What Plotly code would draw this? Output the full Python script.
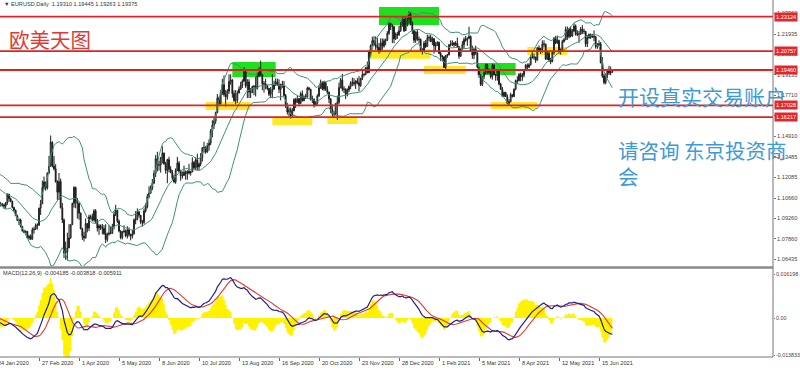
import numpy as np
import pandas as pd
import plotly.graph_objects as go

# ---------------- data: EURUSD daily (Dec 2019 warm-up .. 25 Jun 2021) ----------------
closes = [
 1.1078,1.1081,1.1077,1.1104,1.1058, 1.1064,1.1093,1.1129,1.1131,1.1121, 1.1144,1.1149,1.1113,1.1122,1.1079, 1.1087,1.1088,1.1100,1.1178, 1.1199,1.1213,
 1.1172,1.1160, 1.1196,1.1151,1.1105,1.1105,1.1120, 1.1135,1.1128,1.1150,1.1136,1.1092, 1.1095,1.1083,1.1093,1.1055,1.1026, 1.1021,1.1019,1.1010,1.1031,1.1093,
 1.1062,1.1045,1.1001,1.0982,1.0944, 1.0912,1.0915,1.0872,1.0840,1.0830, 1.0837,1.0791,1.0803,1.0783,1.0848, 1.0852,1.0880,1.0881,1.0996,1.1026,
 1.1138,1.1177,1.1135,1.1238,1.1284, 1.1450,1.1285,1.1267,1.1177,1.1106, 1.1180,1.0999,1.0915,1.0690,1.0695, 1.0723,1.0793,1.0883,1.1029,1.1139, 1.1043,1.1031,
 1.0962,1.0855,1.0803, 1.0793,1.0891,1.0859,1.0937,1.0938, 1.0914,1.0977,1.0903,1.0860,1.0876, 1.0862,1.0857,1.0822,1.0781,1.0820, 1.0825,1.0824,1.0870,1.0954,
 1.0982, 1.0907,1.0839,1.0795,1.0833,1.0839, 1.0806,1.0848,1.0815,1.0805,1.0820, 1.0915,1.0922,1.0971,1.0948,1.0901, 1.0898,1.0977,1.1005,1.1077,1.1100,
 1.1134,1.1169,1.1235,1.1336,1.1292, 1.1293,1.1342,1.1374,1.1301,1.1256, 1.1330,1.1264,1.1243,1.1205,1.1178, 1.1257,1.1307,1.1251,1.1219,1.1220, 1.1243,1.1234,
 1.1251,1.1238,1.1245, 1.1310,1.1274,1.1330,1.1280,1.1300, 1.1344,1.1412,1.1413,1.1383,1.1427, 1.1444,1.1527,1.1568,1.1595,1.1654, 1.1753,1.1716,1.1790,1.1846,1.1778,
 1.1762,1.1800,1.1866,1.1877,1.1785, 1.1737,1.1737,1.1787,1.1814,1.1840, 1.1870,1.1932,1.1837,1.1864,1.1795, 1.1792,1.1832,1.1834,1.1820,1.1904, 1.1937,
 1.1913,1.1852,1.1850,1.1838, 1.1819,1.1779,1.1799,1.1813,1.1845, 1.1864,1.1845,1.1813,1.1848,1.1840, 1.1770,1.1703,1.1658,1.1673,1.1631, 1.1665,1.1744,1.1722,
 1.1749,1.1716, 1.1783,1.1735,1.1761,1.1760,1.1823, 1.1813,1.1743,1.1746,1.1705,1.1718, 1.1768,1.1823,1.1862,1.1816,1.1860, 1.1813,1.1793,1.1747,1.1674,1.1645,
 1.1641,1.1714,1.1724,1.1826,1.1876, 1.1815,1.1814,1.1779,1.1808,1.1833, 1.1856,1.1860,1.1852,1.1871,1.1857, 1.1840,1.1888,1.1914,1.1915,1.1963, 1.1928,
 1.2070,1.2115,1.2148,1.2121, 1.2107,1.2101,1.2079,1.2133,1.2110, 1.2147,1.2151,1.2199,1.2265,1.2255, 1.2243,1.2160,1.2193,1.2188, 1.2216,1.2249,1.2297,1.2216,
 1.2249,1.2297,1.2327,1.2270,1.2218, 1.2151,1.2208,1.2157,1.2155,1.2081, 1.2076,1.2131,1.2107,1.2166,1.2170, 1.2141,1.2161,1.2112,1.2116,1.2136,
 1.2059,1.2040,1.2036,1.1963,1.2046, 1.2050,1.2118,1.2121,1.2133,1.2119, 1.2130,1.2106,1.2040,1.2091,1.2120, 1.2156,1.2151,1.2165,1.2176,1.2074,
 1.2048,1.2089,1.2063,1.1965,1.1915, 1.1847,1.1901,1.1928,1.1983,1.1952, 1.1929,1.1900,1.1978,1.1914,1.1906, 1.1939,1.1850,1.1814,1.1765,1.1792, 1.1763,1.1717,1.1728,
 1.1776,1.1763, 1.1814,1.1874,1.1872,1.1915,1.1900, 1.1911,1.1946,1.1978,1.1965,1.1983, 1.2036,1.2036,1.2034,1.2013,1.2097, 1.2083,1.2090,1.2125,1.2124,1.2020,
 1.2061,1.2014,1.2003,1.2067,1.2164, 1.2132,1.2149,1.2073,1.2081,1.2142, 1.2154,1.2224,1.2174,1.2227,1.2180, 1.2214,1.2248,1.2191,1.2193,1.2193, 1.2226,
 1.2213,1.2211,1.2126,1.2166, 1.2190,1.2172,1.2179,1.2174,1.2107, 1.2121,1.2126,1.1996,1.1905,1.1860, 1.1917,1.1941,1.1926,1.1931,1.19375,
]
highs = [
 1.1090,1.1092,1.1090,1.1110,1.1112, 1.1075,1.1097,1.1145,1.1200,1.1139, 1.1153,1.1175,1.1150,1.1128,1.1125, 1.1094,1.1096,1.1106,1.1187, 1.1214,1.1239,
 1.1229,1.1185, 1.1206,1.1199,1.1166,1.1115,1.1124, 1.1141,1.1139,1.1154,1.1174,1.1137, 1.1101,1.1100,1.1103,1.1102,1.1060, 1.1039,1.1032,1.1028,1.1039,1.1098,
 1.1095,1.1069,1.1047,1.1006,1.0986, 1.0951,1.0925,1.0925,1.0872,1.0850, 1.0844,1.0839,1.0813,1.0816,1.0863, 1.0868,1.0891,1.0892,1.1000,1.1053,
 1.1186,1.1214,1.1165,1.1243,1.1356, 1.1496,1.1455,1.1354,1.1299,1.1189, 1.1238,1.1200,1.1032,1.0926,1.0766, 1.0828,1.0886,1.0888,1.1035,1.1147, 1.1144,1.1067,
 1.1028,1.0967,1.0862, 1.0834,1.0926,1.0893,1.0952,1.0951, 1.0959,1.0990,1.0990,1.0923,1.0886, 1.0885,1.0888,1.0880,1.0886,1.0828, 1.0880,1.0870,1.0889,1.0973,
 1.1019, 1.0955,1.0918,1.0845,1.0840,1.0879, 1.0850,1.0872,1.0864,1.0822,1.0849, 1.0926,1.0976,1.0995,1.0976,1.0948, 1.0916,1.0994,1.1030,1.1093,1.1147,
 1.1154,1.1197,1.1257,1.1361,1.1384, 1.1322,1.1349,1.1422,1.1380,1.1315, 1.1336,1.1350,1.1285,1.1259,1.1226, 1.1270,1.1349,1.1321,1.1260,1.1249, 1.1289,1.1256,
 1.1255,1.1302,1.1253, 1.1346,1.1321,1.1346,1.1371,1.1310, 1.1375,1.1414,1.1452,1.1423,1.1445, 1.1468,1.1540,1.1601,1.1626,1.1660, 1.1781,1.1764,1.1807,1.1886,1.1909,
 1.1809,1.1815,1.1917,1.1916,1.1883, 1.1806,1.1808,1.1804,1.1833,1.1865, 1.1882,1.1966,1.1950,1.1883,1.1883, 1.1822,1.1838,1.1843,1.1900,1.1928, 1.1966,
 1.2011,1.1918,1.1870,1.1884, 1.1845,1.1823,1.1829,1.1917,1.1873, 1.1888,1.1887,1.1882,1.1851,1.1872, 1.1871,1.1781,1.1720,1.1689,1.1688, 1.1684,1.1751,1.1754,
 1.1771,1.1752, 1.1797,1.1806,1.1771,1.1782,1.1832, 1.1830,1.1817,1.1770,1.1750,1.1733, 1.1780,1.1841,1.1880,1.1868,1.1872, 1.1860,1.1835,1.1798,1.1752,1.1708,
 1.1666,1.1720,1.1770,1.1860,1.1891, 1.1920,1.1834,1.1820,1.1820,1.1840, 1.1870,1.1894,1.1890,1.1875,1.1891, 1.1905,1.1893,1.1942,1.1924,1.1966, 1.2004,
 1.2078,1.2122,1.2175,1.2178, 1.2177,1.2167,1.2131,1.2163,1.2163, 1.2162,1.2162,1.2213,1.2273,1.2272, 1.2259,1.2250,1.2204,1.2209, 1.2250,1.2276,1.2310,1.2310,
 1.2310,1.2307,1.2349,1.2345,1.2280, 1.2222,1.2210,1.2222,1.2176,1.2163, 1.2096,1.2146,1.2152,1.2189,1.2185, 1.2188,1.2175,1.2166,1.2140,1.2144,
 1.2141,1.2074,1.2049,1.2040,1.2050, 1.2058,1.2126,1.2150,1.2150,1.2136, 1.2145,1.2169,1.2112,1.2096,1.2145, 1.2170,1.2180,1.2170,1.2243,1.2183,
 1.2113,1.2094,1.2113,1.2067,1.1968, 1.1914,1.1908,1.1936,1.1990,1.1989, 1.1955,1.1942,1.1990,1.1988,1.1919, 1.1942,1.1942,1.1858,1.1830,1.1797, 1.1796,1.1779,1.1746,
 1.1790,1.1780, 1.1820,1.1880,1.1903,1.1926,1.1928, 1.1925,1.1949,1.1988,1.1991,1.1993, 1.2048,1.2079,1.2058,1.2038,1.2105, 1.2116,1.2098,1.2150,1.2150,1.2127,
 1.2076,1.2078,1.2030,1.2071,1.2173, 1.2181,1.2182,1.2155,1.2094,1.2154, 1.2167,1.2245,1.2245,1.2235,1.2244, 1.2227,1.2266,1.2259,1.2219,1.2215, 1.2242,
 1.2254,1.2230,1.2214,1.2185, 1.2197,1.2197,1.2194,1.2218,1.2179, 1.2131,1.2150,1.2139,1.2035,1.1920, 1.1922,1.1954,1.1975,1.1970,1.19445,
]
lows = [
 1.1014,1.1068,1.1067,1.1073,1.1040, 1.1054,1.1060,1.1076,1.1106,1.1107, 1.1116,1.1138,1.1110,1.1099,1.1068, 1.1070,1.1081,1.1083,1.1095, 1.1170,1.1195,
 1.1164,1.1126, 1.1146,1.1145,1.1093,1.1090,1.1090, 1.1114,1.1115,1.1123,1.1130,1.1086, 1.1080,1.1080,1.1082,1.1036,1.1018, 1.1008,1.1010,1.0992,1.0993,1.1020,
 1.1040,1.1036,1.0995,1.0973,1.0944, 1.0908,1.0880,1.0863,1.0835,1.0827, 1.0822,1.0788,1.0779,1.0778,1.0780, 1.0822,1.0847,1.0850,1.0873,1.0950,
 1.1053,1.1123,1.1117,1.1124,1.1233, 1.1318,1.1277,1.1256,1.1174,1.1053, 1.1053,1.0995,1.0894,1.0654,1.0642, 1.0636,1.0731,1.0786,1.0886,1.1000, 1.0996,1.0925,
 1.0917,1.0851,1.0778, 1.0768,1.0787,1.0830,1.0839,1.0919, 1.0906,1.0904,1.0890,1.0836,1.0813, 1.0846,1.0817,1.0812,1.0757,1.0766, 1.0808,1.0816,1.0819,1.0850,
 1.0942, 1.0894,1.0830,1.0782,1.0782,1.0828, 1.0797,1.0788,1.0801,1.0775,1.0788, 1.0815,1.0886,1.0913,1.0932,1.0886, 1.0870,1.0888,1.0966,1.0995,1.1064,
 1.1094,1.1121,1.1162,1.1210,1.1249, 1.1255,1.1241,1.1304,1.1296,1.1233, 1.1168,1.1242,1.1236,1.1190,1.1168, 1.1164,1.1250,1.1242,1.1185,1.1199, 1.1220,1.1192,
 1.1192,1.1228,1.1220, 1.1247,1.1264,1.1259,1.1257,1.1254, 1.1285,1.1317,1.1377,1.1370,1.1377, 1.1392,1.1430,1.1483,1.1541,1.1576, 1.1648,1.1704,1.1708,1.1775,1.1763,
 1.1696,1.1742,1.1782,1.1845,1.1756, 1.1727,1.1711,1.1720,1.1790,1.1809, 1.1822,1.1865,1.1823,1.1753,1.1753, 1.1753,1.1787,1.1773,1.1764,1.1811, 1.1897,
 1.1905,1.1807,1.1790,1.1814, 1.1807,1.1766,1.1753,1.1752,1.1817, 1.1836,1.1838,1.1788,1.1737,1.1823, 1.1763,1.1685,1.1640,1.1626,1.1612, 1.1625,1.1666,1.1685,
 1.1722,1.1696, 1.1717,1.1730,1.1731,1.1747,1.1757, 1.1806,1.1735,1.1719,1.1688,1.1697, 1.1707,1.1760,1.1817,1.1807,1.1802, 1.1803,1.1781,1.1718,1.1650,1.1621,
 1.1622,1.1639,1.1603,1.1710,1.1820, 1.1800,1.1788,1.1746,1.1765,1.1794, 1.1814,1.1835,1.1836,1.1816,1.1848, 1.1800,1.1830,1.1877,1.1901,1.1910, 1.1924,
 1.1924,1.2040,1.2108,1.2113, 1.2085,1.2083,1.2058,1.2068,1.2085, 1.2100,1.2116,1.2145,1.2187,1.2221, 1.2131,1.2130,1.2153,1.2160, 1.2180,1.2208,1.2244,1.2207,
 1.2214,1.2254,1.2264,1.2252,1.2193, 1.2132,1.2133,1.2146,1.2130,1.2074, 1.2053,1.2076,1.2096,1.2105,1.2144, 1.2140,1.2117,1.2059,1.2077,1.2110,
 1.2056,1.2007,1.2004,1.1961,1.1952, 1.2030,1.2047,1.2108,1.2111,1.2104, 1.2111,1.2101,1.2023,1.2038,1.2084, 1.2092,1.2140,1.2112,1.2159,1.2070,
 1.2023,1.2020,1.2051,1.1960,1.1893, 1.1836,1.1836,1.1882,1.1915,1.1918, 1.1920,1.1887,1.1880,1.1910,1.1873, 1.1873,1.1840,1.1810,1.1761,1.1761, 1.1762,1.1711,1.1704,
 1.1725,1.1757, 1.1761,1.1806,1.1849,1.1868,1.1868, 1.1872,1.1895,1.1945,1.1953,1.1959, 1.1976,1.2024,1.2017,1.1995,1.2014, 1.2070,1.2056,1.2065,1.2104,1.2017,
 1.2016,1.2001,1.1986,1.2000,1.2052, 1.2123,1.2126,1.2060,1.2052,1.2077, 1.2134,1.2151,1.2153,1.2164,1.2170, 1.2174,1.2208,1.2182,1.2179,1.2133, 1.2188,
 1.2193,1.2194,1.2105,1.2104, 1.2162,1.2160,1.2166,1.2144,1.2093, 1.2092,1.2110,1.1992,1.1892,1.1847, 1.1848,1.1891,1.1912,1.1910,1.19263,
]
first_day, last_day = "2019-12-02", "2021-06-25"
no_trading_days = ["2019-12-25", "2020-01-01", "2020-12-25", "2021-01-01"]
view_start_day = "2020-01-24"

date_tick_days = ["2020-01-24","2020-02-27","2020-04-01","2020-05-05","2020-06-08","2020-07-10",
                  "2020-08-13","2020-09-16","2020-10-20","2020-11-23","2020-12-28","2021-02-01",
                  "2021-03-05","2021-04-08","2021-05-12","2021-06-15"]
date_tick_labels = ["24 Jan 2020","27 Feb 2020","1 Apr 2020","5 May 2020","8 Jun 2020","10 Jul 2020",
                    "13 Aug 2020","16 Sep 2020","20 Oct 2020","23 Nov 2020","28 Dec 2020","1 Feb 2021",
                    "5 Mar 2021","8 Apr 2021","12 May 2021","15 Jun 2021"]

price_ticks = [1.23360,1.21935,1.20535,1.19135,1.17710,1.16310,1.14910,1.13485,1.12085,1.10660,1.09260,1.07860,1.06435]
price_tick_labels = ["1.23360","1.21935","1.20535","1.19135","1.17710","1.16310","1.14910","1.13485",
                     "1.12085","1.10660","1.09260","1.07860","1.06435"]
macd_ticks = [0.016198, 0.0, -0.013833]
macd_tick_labels = ["0.016198", "0.00", "-0.013833"]

level_prices = [1.23124, 1.20757, 1.19460, 1.17028, 1.16217]
level_labels = ["1.23124", "1.20757", "1.19460", "1.17028", "1.16217"]

# highlight zones: (start day, end day, top price, bottom price)
green_zones = [("2020-08-07","2020-09-14",1.2001,1.1898),
               ("2020-12-09","2021-02-01",1.2379,1.2255),
               ("2021-03-04","2021-04-06",1.1994,1.1912)]
yellow_zones = [("2020-07-16","2020-08-24",1.1726,1.1671),
                ("2020-09-10","2020-10-14",1.1623,1.1568),
                ("2020-10-27","2020-11-20",1.1623,1.1575),
                ("2020-11-30","2021-01-25",1.2088,1.2024),
                ("2021-01-19","2021-02-23",1.1974,1.1919),
                ("2021-03-16","2021-04-23",1.1726,1.1678),
                ("2021-04-15","2021-05-19",1.2104,1.2049)]

title_text = "▼ EURUSD,Daily  1.19310 1.19445 1.19263 1.19375"
macd_text = "MACD(12,26,9) -0.004185 -0.003818 -0.005911"

# ---------------- derived ----------------
dates = pd.bdate_range(first_day, last_day)
dates = dates[~dates.isin(pd.to_datetime(no_trading_days))]
assert len(dates) == len(closes) == len(highs) == len(lows), (len(dates), len(closes), len(highs), len(lows))
pos = {d: i for i, d in enumerate(dates)}
origin = pos[pd.Timestamp(view_start_day)]
def bar(day):
    return pos[pd.Timestamp(day)] - origin
idx = np.arange(len(dates)) - origin

c = np.array(closes)
o = np.concatenate([[c[0]], c[:-1]])
h = np.maximum.reduce([np.array(highs), o, c])
l = np.minimum.reduce([np.array(lows), o, c])

s = pd.Series(c)
mid = s.rolling(20).mean()
sd = s.rolling(20).std(ddof=0)
upper, lower = mid + 2 * sd, mid - 2 * sd
macd = s.ewm(span=12, adjust=False).mean() - s.ewm(span=26, adjust=False).mean()
signal = macd.rolling(9).mean()
hist = 2 * (macd - signal)

# ---------------- geometry ----------------
W, H = 800, 368
AX_RIGHT = 773
MAIN_BOTTOM, SUB_TOP, SUB_BOTTOM = 266, 269, 357
def py(p):
    return (H - p) / H
X_RANGE = [0.6, 464.4]

fig = go.Figure()
fig.add_trace(go.Candlestick(
    x=idx, open=o, high=h, low=l, close=c,
    increasing=dict(line=dict(color="#1a1a1a", width=1), fillcolor="#ffffff"),
    decreasing=dict(line=dict(color="#1a1a1a", width=1), fillcolor="#1a1a1a"),
    whiskerwidth=0, showlegend=False, hoverinfo="skip", xaxis="x", yaxis="y"))
BB = "#3d9276"
for band in (upper, mid, lower):
    fig.add_trace(go.Scatter(x=idx, y=band, mode="lines", line=dict(color=BB, width=1),
                             showlegend=False, hoverinfo="skip", xaxis="x", yaxis="y"))

fig.add_trace(go.Scatter(x=idx, y=hist, mode="lines", line=dict(width=0, shape="hvh"),
                         fill="tozeroy", fillcolor="#fff200", showlegend=False,
                         hoverinfo="skip", xaxis="x2", yaxis="y2"))
fig.add_trace(go.Scatter(x=idx, y=signal, mode="lines", line=dict(color="#e03a2a", width=1.1),
                         showlegend=False, hoverinfo="skip", xaxis="x2", yaxis="y2"))
fig.add_trace(go.Scatter(x=idx, y=macd, mode="lines", line=dict(color="#22208e", width=1.2),
                         showlegend=False, hoverinfo="skip", xaxis="x2", yaxis="y2"))

shapes = []
for (d0, d1, top, bot) in yellow_zones:
    shapes.append(dict(type="rect", xref="x", yref="y", x0=bar(d0), x1=bar(d1), y0=bot, y1=top,
                       fillcolor="#fde81e", line=dict(width=0), layer="below", opacity=0.95))
for (d0, d1, top, bot) in green_zones:
    shapes.append(dict(type="rect", xref="x", yref="y", x0=bar(d0), x1=bar(d1), y0=bot, y1=top,
                       fillcolor="#1fe01f", line=dict(width=0), layer="below"))
for p in level_prices:
    shapes.append(dict(type="line", xref="paper", yref="y", x0=0, x1=AX_RIGHT / W, y0=p, y1=p,
                       line=dict(color="#dc2426", width=1.8), layer="above"))
# frame
shapes.append(dict(type="line", xref="paper", yref="paper", x0=0, x1=AX_RIGHT / W,
                   y0=py(267.5), y1=py(267.5), line=dict(color="#8a8a8a", width=2.5)))
shapes.append(dict(type="line", xref="paper", yref="paper", x0=0, x1=AX_RIGHT / W,
                   y0=py(SUB_BOTTOM), y1=py(SUB_BOTTOM), line=dict(color="#777777", width=1)))
shapes.append(dict(type="line", xref="paper", yref="paper", x0=AX_RIGHT / W, x1=AX_RIGHT / W,
                   y0=py(SUB_BOTTOM), y1=1, line=dict(color="#777777", width=1)))

ann = []
small = dict(family="Liberation Sans", size=5.6, color="#333333")
ann.append(dict(text=title_text, xref="paper", yref="paper", x=2 / W, y=py(4), xanchor="left",
                yanchor="middle", showarrow=False, font=small))
ann.append(dict(text=macd_text, xref="paper", yref="paper", x=1 / W, y=py(273), xanchor="left",
                yanchor="middle", showarrow=False, font=small))
for d, lab in zip(date_tick_days, date_tick_labels):
    b = bar(d)
    inside = b >= X_RANGE[0]
    ann.append(dict(text=lab, xref="x2", yref="paper", x=b if inside else X_RANGE[0],
                    y=py(362.5), xanchor="left", yanchor="middle",
                    xshift=1 if inside else -4, showarrow=False,
                    font=dict(family="Liberation Sans", size=5.6, color="#333333")))
for p, lab in zip(level_prices, level_labels):
    ann.append(dict(text=lab, xref="paper", yref="y", x=(AX_RIGHT + 1) / W, y=p, xanchor="left",
                    yanchor="middle", showarrow=False, bgcolor="#e2262a", borderpad=1,
                    font=dict(family="Liberation Sans", size=5.6, color="#ffffff")))
cjk = "Noto Sans CJK SC"
ann.append(dict(text="欧美天图", xref="paper", yref="paper", x=7 / W, y=py(38.5), xanchor="left",
                yanchor="middle", showarrow=False, font=dict(family=cjk, size=20.5, color="#e03a36")))
blue = "#3d9ad8"
ann.append(dict(text="开设真实交易账户", xref="paper", yref="paper", x=616 / W, y=py(96),
                xanchor="left", yanchor="middle", showarrow=False,
                font=dict(family=cjk, size=21, color=blue)))
ann.append(dict(text="请咨询 东京投资商", xref="paper", yref="paper", x=616 / W, y=py(150),
                xanchor="left", yanchor="middle", showarrow=False,
                font=dict(family=cjk, size=20.5, color=blue)))
ann.append(dict(text="会", xref="paper", yref="paper", x=616 / W, y=py(176),
                xanchor="left", yanchor="middle", showarrow=False,
                font=dict(family=cjk, size=20.5, color=blue)))

tickfont = dict(family="Liberation Sans", size=5.6, color="#444444")
fig.update_layout(
    width=W, height=H, autosize=False, margin=dict(l=0, r=0, t=0, b=0, pad=0),
    paper_bgcolor="#ffffff", plot_bgcolor="#ffffff", showlegend=False,
    xaxis=dict(domain=[0, AX_RIGHT / W], range=X_RANGE, anchor="y", showticklabels=False,
               showgrid=False, zeroline=False, showline=False, ticks="",
               rangeslider=dict(visible=False), fixedrange=True),
    xaxis2=dict(domain=[0, AX_RIGHT / W], range=X_RANGE, anchor="y2", matches="x",
                tickmode="array", tickvals=[bar(d) for d in date_tick_days], ticks="outside",
                ticklen=3, tickcolor="#666666", showticklabels=False, showgrid=False,
                zeroline=False, showline=False),
    yaxis=dict(domain=[py(MAIN_BOTTOM), 1], range=[1.05990, 1.24272], anchor="x", side="right",
               tickmode="array", tickvals=price_ticks, ticktext=price_tick_labels, ticks="outside",
               ticklen=2, tickcolor="#777777", tickfont=tickfont, showgrid=False, zeroline=False,
               showline=False, automargin=False),
    yaxis2=dict(domain=[py(SUB_BOTTOM), py(SUB_TOP)], range=[-0.01437, 0.018054], anchor="x2",
                side="right", tickmode="array", tickvals=macd_ticks, ticktext=macd_tick_labels,
                ticks="outside", ticklen=1, tickcolor="#777777",
                tickfont=dict(family="Liberation Sans", size=5.3, color="#444444"),
                showgrid=False, zeroline=False, showline=False, automargin=False),
    shapes=shapes, annotations=ann,
)
fig.write_html("out.html")
